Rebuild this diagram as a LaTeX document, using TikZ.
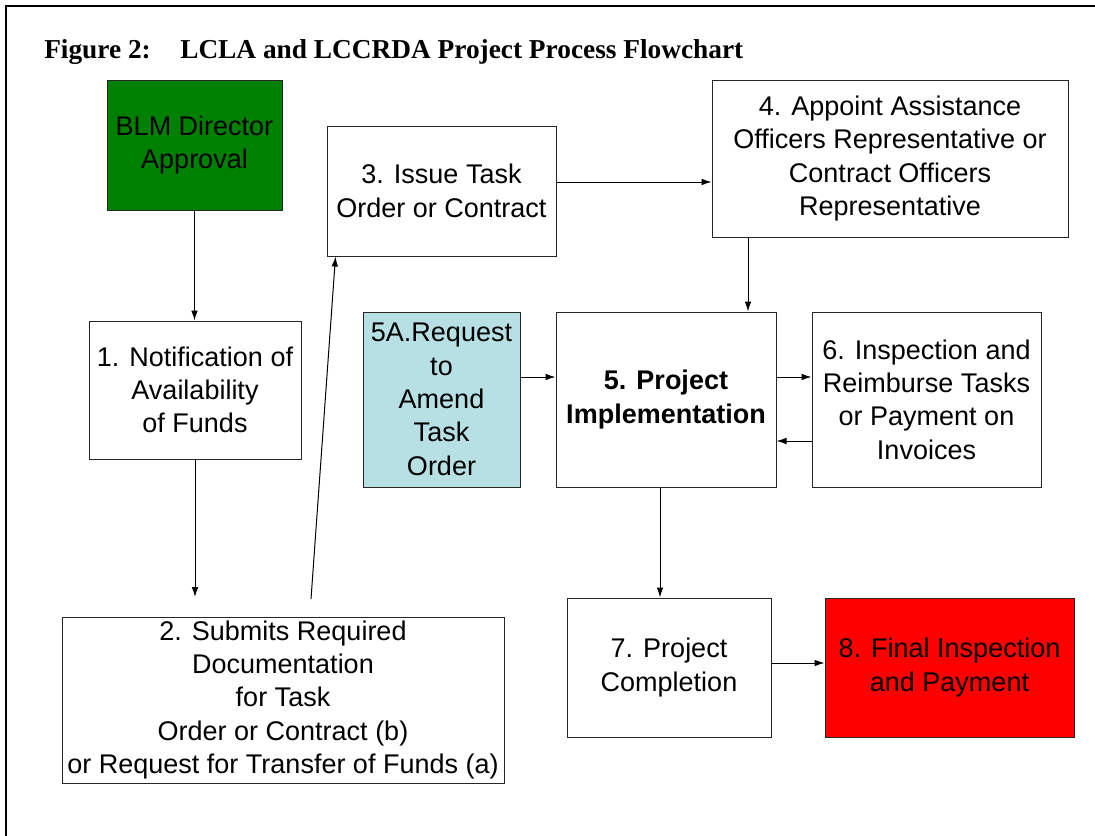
\documentclass[tikz,border=0pt]{standalone}
\usepackage{fontspec}
\setmainfont{Liberation Serif}
\setsansfont{Liberation Sans}
\usepackage{tikz}
\usetikzlibrary{arrows.meta, positioning}
\definecolor{approvegreen}{RGB}{0,128,0}
\definecolor{amendblue}{RGB}{183,224,228}
\definecolor{finalred}{RGB}{255,0,0}
\tikzstyle{process} = [rectangle, draw=black!85, line width=0.75pt, inner sep=0pt, align=center, text=black, font=\sffamily\fontsize{20.25pt}{25pt}\selectfont]
\tikzstyle{arrow} = [line width=0.75pt, -{Latex[length=7.5pt, width=5pt]}]
\tikzstyle{title} = [anchor=base west, inner sep=0pt, font=\bfseries\fontsize{20.5pt}{24pt}\selectfont]

\begin{document}
\begin{tikzpicture}[x=0.75pt, y=-0.75pt]
    \useasboundingbox (0,0) rectangle (1095,835);
    \draw [line width=1.5pt] (6,840) -- (6,6) -- (1100,6);

    \node (figno) [title] at (44,58) {Figure 2:};
    \node (figtitle) [title] at (180,58) {LCLA and LCCRDA Project Process Flowchart};

    \node (blm) [process, fill=approvegreen, minimum width=131.25pt, minimum height=97.5pt] at (194.5,145) {BLM Director\\Approval};
    \node (notify) [process, minimum width=159pt, minimum height=103.5pt] at (195,390) {1. Notification of\\Availability\\of Funds};
    \node (submit) [process, minimum width=331.5pt, minimum height=124.5pt] at (283,700) {2. Submits Required\\Documentation\\for Task\\Order or Contract (b)\\or Request for Transfer of Funds (a)};
    \node (issue) [process, minimum width=171.75pt, minimum height=97.5pt] at (441.5,191) {3. Issue Task\\Order or Contract};
    \node (appoint) [process, minimum width=267pt, minimum height=117.75pt] at (890,158.5) {4. Appoint Assistance\\Officers Representative or\\Contract Officers\\Representative};
    \node (amend) [process, fill=amendblue, minimum width=117.75pt, minimum height=131.25pt] at (441.5,399.5) {5A.Request\\to\\Amend\\Task\\Order};
    \node (implement) [process, font=\sffamily\bfseries\fontsize{20.25pt}{25pt}\selectfont, minimum width=165pt, minimum height=131.25pt] at (666,399.5) {5. Project\\Implementation};
    \node (inspect) [process, minimum width=171.75pt, minimum height=131.25pt] at (926.5,399.5) {6. Inspection and\\Reimburse Tasks\\or Payment on\\Invoices};
    \node (complete) [process, minimum width=153pt, minimum height=104.25pt] at (669,667.5) {7. Project\\Completion};
    \node (final) [process, fill=finalred, minimum width=186.75pt, minimum height=104.25pt] at (949.5,667.5) {8. Final Inspection\\and Payment};

    \coordinate (gapdown) at (195,597);
    \coordinate (gapup) at (311,599);

    \draw [arrow] (blm) -- (blm |- notify.north);
    \draw [arrow] (notify) -- (gapdown);
    \draw [arrow] (gapup) -- ([xshift=6.75pt]issue.south west);
    \draw [arrow] ([yshift=6.75pt]issue.east) -- ([yshift=6.75pt]issue.east -| appoint.west);
    \draw [arrow] ([xshift=61.5pt]implement.north |- appoint.south) -- ([xshift=61.5pt]implement.north);
    \draw [arrow] ([yshift=16.875pt]amend.east) -- ([yshift=16.875pt]amend.east -| implement.west);
    \draw [arrow] ([yshift=16.875pt]implement.east) -- ([yshift=16.875pt]implement.east -| inspect.west);
    \draw [arrow] ([yshift=-31.125pt]inspect.west) -- ([yshift=-31.125pt]inspect.west -| implement.east);
    \draw [arrow] ([xshift=-4.5pt]implement.south) -- ([xshift=-4.5pt]implement.south |- complete.north);
    \draw [arrow] ([yshift=3.375pt]complete.east) -- ([yshift=3.375pt]complete.east -| final.west);
\end{tikzpicture}
\end{document}
